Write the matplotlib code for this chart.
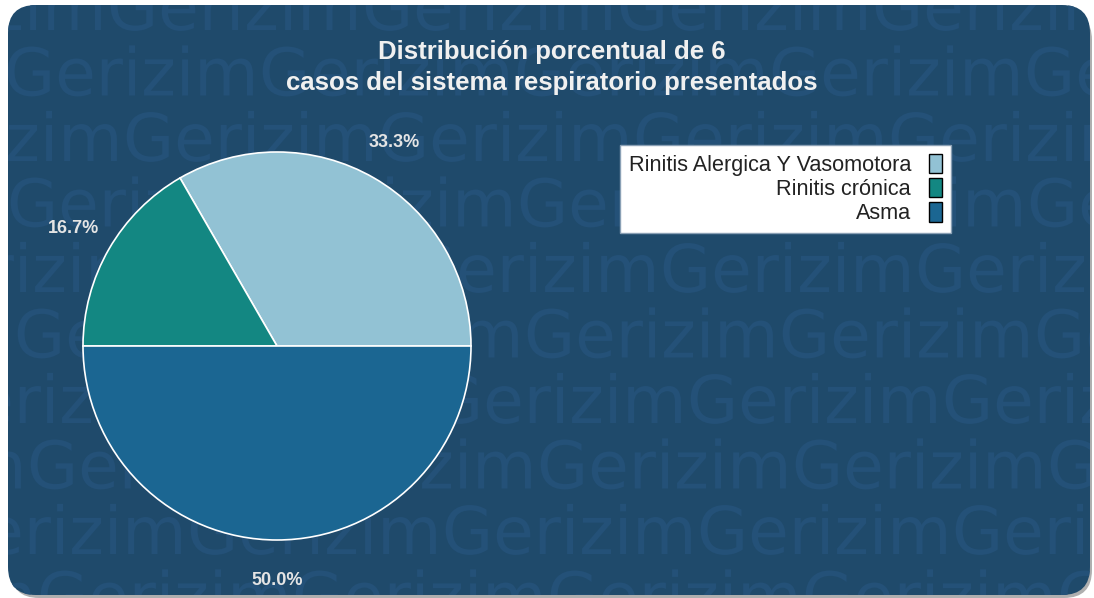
import matplotlib
matplotlib.use('Agg')
import matplotlib.pyplot as plt
from matplotlib.patches import FancyBboxPatch, Patch, PathPatch
from matplotlib.textpath import TextPath
from matplotlib.font_manager import FontProperties

# data
labels = ['Rinitis Alergica Y Vasomotora', 'Rinitis crónica', 'Asma']
cases = [2, 1, 3]
colors = ['#92c2d4', '#138782', '#1b6692']
title_lines = ['Distribución porcentual de 6',
               'casos del sistema respiratorio presentados']

W, H = 1094, 598
BG = '#1f4a6b'
WM = '#245178'

fig = plt.figure(figsize=(W / 100, H / 100), dpi=100)
fig.patch.set_facecolor('white')

# background axes in pixel units
bg = fig.add_axes([0, 0, 1, 1])
bg.set_xlim(0, W)
bg.set_ylim(0, H)
bg.axis('off')

shadow = FancyBboxPatch((11, 0), 1081, 586,
                        boxstyle='round,pad=0,rounding_size=28',
                        facecolor='#7a7a7a', edgecolor='none', alpha=0.6)
bg.add_patch(shadow)
card = FancyBboxPatch((8, 3), 1082, 590,
                      boxstyle='round,pad=0,rounding_size=28',
                      facecolor=BG, edgecolor='none')
bg.add_patch(card)

# watermark rows (x of first "G" and baseline in pixels from the top)
fp = FontProperties(family='DejaVu Sans')
row_shift = [617, 769, 633, 772, 660, 779, 687, 792, 697, 802]
for n, shift in enumerate(row_shift):
    base = 30 + 65.5 * n
    x0 = shift - 255 * 4
    for j in range(9):
        tp = TextPath((x0 + 255 * j, H - base), 'Gerizim', size=66, prop=fp)
        pp = PathPatch(tp, facecolor=WM, edgecolor='none')
        bg.add_patch(pp)
        pp.set_clip_path(card)

# title
for line, ypix in zip(title_lines, [52, 83]):
    fig.text(552 / W, 1 - ypix / H, line, ha='center', va='center',
             fontsize=18.5, fontweight='bold', color='#f0f0f0',
             family='Liberation Sans', zorder=5)

# pie
cx, cy, r = 277, 346, 194
ax = fig.add_axes([(cx - r) / W, (H - cy - r) / H, 2 * r / W, 2 * r / H])
ax.patch.set_visible(False)
wedges, texts, autotexts = ax.pie(
    cases, colors=colors, startangle=0, counterclock=True,
    autopct='%1.1f%%', pctdistance=1.21, radius=1,
    wedgeprops=dict(edgecolor='white', linewidth=1.2),
    textprops=dict(color='#e4e4e4', fontsize=13, fontweight='bold',
                   family='Liberation Sans'))
ax.set_xlim(-1, 1)
ax.set_ylim(-1, 1)
ax.axis('off')
for w in wedges:
    w.set_clip_on(False)
for t in autotexts:
    t.set_clip_on(False)

handles = [Patch(facecolor=c, edgecolor='black', linewidth=1) for c in colors]
leg = fig.legend(handles, labels, loc='upper right',
                 bbox_to_anchor=(951 / W, 1 - 145 / H),
                 bbox_transform=fig.transFigure, markerfirst=False,
                 prop={'family': 'Liberation Sans', 'size': 15.6},
                 frameon=True, fancybox=False, framealpha=1,
                 edgecolor='#8aa0b5', facecolor='white',
                 handlelength=0.6, handleheight=1.0, handletextpad=0.85,
                 labelspacing=0.1, borderpad=0.4, borderaxespad=0)
leg.get_frame().set_linewidth(1)
leg.set_zorder(6)
for t in leg.get_texts():
    t.set_color('#222222')

fig.savefig('out.png', dpi=100, facecolor=fig.get_facecolor())
